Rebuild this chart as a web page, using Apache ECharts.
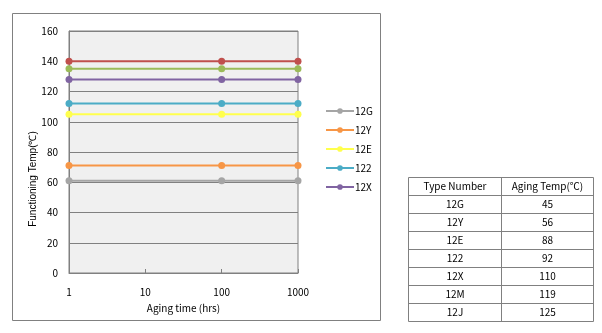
<!DOCTYPE html>
<html><head><meta charset="utf-8">
<script src="https://cdn.jsdelivr.net/npm/echarts@6/dist/echarts.min.js"></script>
<style>html,body{margin:0;padding:0;background:#fff}#c{width:602px;height:333px}</style>
</head><body><div id="c"></div>
<script>
const xTimes = [1, 100, 1000];
const seriesNames = ['12G', '12Y', '12E', '122', '12X', '12M', '12J'];
const s12G = [61, 61, 61];
const s12Y = [71, 71, 71];
const s12E = [105, 105, 105];
const s122 = [112, 112, 112];
const s12X = [128, 128, 128];
const s12M = [135, 135, 135];
const s12J = [140, 140, 140];
const legendNames = ['12G', '12Y', '12E', '122', '12X'];
const tableHeader = ['Type Number', 'Aging Temp(℃)'];
const tableTypes = ['12G', '12Y', '12E', '122', '12X', '12M', '12J'];
const tableTemps = ['45', '56', '88', '92', '110', '119', '125'];

const seriesData = [s12G, s12Y, s12E, s122, s12X, s12M, s12J];
const colors = ['#a5a5a5', '#f79646', '#ffff4d', '#4bacc6', '#8064a2', '#9bbb59', '#c0504d'];
const FONT = '"Noto Sans CJK JP", sans-serif';
const FONT2 = '"Liberation Sans", sans-serif';

const chart = echarts.init(document.getElementById('c'), null, {renderer: 'canvas'});

const tX = 408.5, tY = 177.5, tW = 185, rowH = 18, colX = 501.5;
const nRows = tableTypes.length + 1;
const g = [];
g.push({type: 'rect', shape: {x: 12.5, y: 13.5, width: 368, height: 307}, style: {fill: 'none', stroke: '#808080', lineWidth: 1}, z: -10, silent: true});
g.push({type: 'rect', shape: {x: tX, y: tY, width: tW, height: rowH * nRows}, style: {fill: '#fff', stroke: '#808080', lineWidth: 1}, silent: true});
g.push({type: 'line', shape: {x1: colX, y1: tY, x2: colX, y2: tY + rowH * nRows}, style: {stroke: '#808080', lineWidth: 1}, silent: true});
for (let i = 1; i < nRows; i++) {
  g.push({type: 'line', shape: {x1: tX, y1: tY + rowH * i, x2: tX + tW, y2: tY + rowH * i}, style: {stroke: '#808080', lineWidth: 1}, silent: true});
}
const rowsAll = [tableHeader].concat(tableTypes.map((t, i) => [t, tableTemps[i]]));
rowsAll.forEach((r, i) => {
  const cy = tY + rowH * i + rowH / 2;
  g.push({type: 'text', x: (tX + colX) / 2, y: cy, style: {text: r[0], fill: '#000', font: '10px ' + FONT, align: 'center', verticalAlign: 'middle'}, silent: true});
  g.push({type: 'text', x: (colX + tX + tW) / 2, y: cy, style: {text: r[1], fill: '#000', font: '10px ' + FONT, align: 'center', verticalAlign: 'middle'}, silent: true});
});
g.push({type: 'text', x: 33, y: 179, rotation: Math.PI / 2, style: {text: 'Functioning Temp(℃)', fill: '#000', font: '10px ' + FONT2, align: 'center', verticalAlign: 'middle'}, silent: true});

chart.setOption({
  backgroundColor: '#fff',
  animation: false,
  color: colors,
  textStyle: {fontFamily: FONT},
  grid: {left: 69, right: 304, top: 31, bottom: 60, show: true, backgroundColor: '#f0f0f0', borderColor: '#808080', borderWidth: 1},
  legend: {
    data: legendNames, orient: 'vertical', left: 325, top: 106, itemWidth: 28, itemHeight: 7, itemGap: 9,
    textStyle: {color: '#000', fontSize: 10, fontFamily: FONT, padding: [0, 0, 0, -4]}, padding: 0
  },
  xAxis: {
    type: 'log', logBase: 10, min: 1, max: 1000,
    name: 'Aging time (hrs)', nameLocation: 'middle', nameGap: 30,
    nameTextStyle: {color: '#000', fontSize: 10, fontFamily: FONT},
    axisLine: {show: true, lineStyle: {color: '#808080'}},
    axisTick: {show: true, inside: true, length: 4, lineStyle: {color: '#808080'}},
    splitLine: {show: false}, minorTick: {show: false},
    axisLabel: {color: '#000', fontSize: 10, margin: 14, fontFamily: FONT, formatter: v => String(Math.round(v))}
  },
  yAxis: {
    type: 'value', min: 0, max: 160, interval: 20,
    axisLine: {show: true, lineStyle: {color: '#808080'}},
    axisTick: {show: false},
    splitLine: {show: true, lineStyle: {color: '#808080', width: 1}},
    axisLabel: {color: '#000', fontSize: 10, margin: 11, fontFamily: FONT}
  },
  series: seriesNames.map((n, i) => ({
    name: n, type: 'line', data: xTimes.map((x, j) => [x, seriesData[i][j]]),
    symbol: 'circle', symbolSize: 7, lineStyle: {width: 2}, itemStyle: {color: colors[i]}
  })),
  graphic: g
});
</script></body></html>
